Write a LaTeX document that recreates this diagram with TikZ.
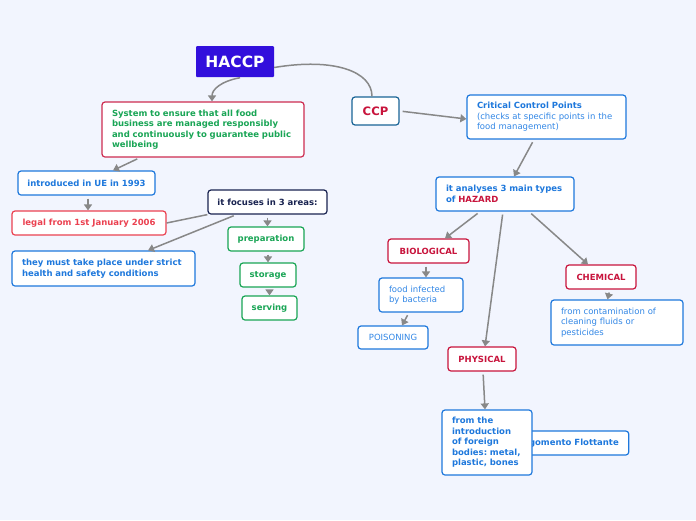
\documentclass[tikz,border=0pt]{standalone}
\usepackage{fontspec}
\setmainfont{DejaVu Sans}
\usetikzlibrary{arrows.meta}
\frenchspacing

\definecolor{bg}{RGB}{242,245,254}
\definecolor{haccpblue}{RGB}{50,15,220}
\definecolor{crimson}{RGB}{200,20,60}
\definecolor{topicblue}{RGB}{30,120,220}
\definecolor{softblue}{RGB}{50,135,230}
\definecolor{leafgreen}{RGB}{25,165,85}
\definecolor{legalred}{RGB}{235,65,80}
\definecolor{navy}{RGB}{25,35,80}
\definecolor{ccpteal}{RGB}{25,100,150}
\definecolor{linkgrey}{RGB}{136,136,136}

\begin{document}
\begin{tikzpicture}[x=1pt, y=-1pt,
    font=\fontsize{8.5}{10.5}\selectfont\bfseries]
  \tikzstyle{box}=[draw, fill=white, rounded corners=3pt, line width=1.2pt,
                   inner sep=0pt, minimum height=24pt]
  \tikzstyle{note}=[box, align=left, inner xsep=10pt]
  \tikzstyle{link}=[draw=linkgrey, line width=1.5pt, shorten <=3pt,
                    -{Triangle[width=8pt,length=6pt]}]
  \tikzstyle{plain}=[draw=linkgrey, line width=1.5pt]
  \useasboundingbox[fill=bg] (0,0) rectangle (696,520);

  % root and main topics
  \node[fill=haccpblue, text=white, rounded corners=1pt, minimum width=78pt,
        minimum height=31pt, font=\fontsize{15.5}{18}\selectfont\bfseries]
        (haccp) at (235,61.5) {HACCP};
  \node[box, draw=ccpteal, text=crimson, minimum width=47pt, minimum height=28pt,
        font=\fontsize{11.6}{14}\selectfont\bfseries] (ccp) at (375.5,111) {CCP};

  % left branch
  \node[note, draw=crimson!90!white, text=leafgreen, text width=182pt,
        minimum height=55pt] (system) at (203,129.5)
        {System to ensure that all food\\business are managed responsibly\\and continuously to guarantee public\\wellbeing};
  \node[box, draw=topicblue, text=topicblue, minimum width=137pt] (intro) at (86.5,183)
        {introduced in UE in 1993};
  \node[box, draw=legalred, text=legalred, minimum width=154pt] (legal) at (89,223)
        {legal from 1st January 2006};
  \node[note, draw=topicblue, text=topicblue, text width=163pt,
        minimum height=35pt] (must) at (103.5,268.5)
        {they must take place under strict\\health and safety conditions};
  \node[box, draw=navy, text=navy, minimum width=119pt] (focus) at (267.5,202)
        {it focuses in 3 areas:};
  \node[box, draw=leafgreen, text=leafgreen, minimum width=76pt] (prep) at (266,239)
        {preparation};
  \node[box, draw=leafgreen, text=leafgreen, minimum width=56pt] (storage) at (268,275)
        {storage};
  \node[box, draw=leafgreen, text=leafgreen, minimum width=55pt] (serving) at (269.5,308)
        {serving};

  % right branch
  \node[note, draw=topicblue, text=topicblue, text width=139pt,
        minimum height=44pt] (critical) at (546.5,117)
        {Critical Control Points\\\mdseries\color{softblue}(checks at specific points in the\\\mdseries\color{softblue}food management)};
  \node[note, draw=topicblue, text=topicblue, text width=118pt,
        minimum height=34pt] (analyses) at (505,194)
        {it analyses 3 main types\\of \textcolor{crimson}{HAZARD}};
  \node[box, draw=crimson, text=crimson, minimum width=81pt] (bio) at (428.5,251)
        {BIOLOGICAL};
  \node[note, draw=topicblue, text=softblue, text width=64pt, minimum height=34pt,
        font=\fontsize{8.5}{10.5}\selectfont] (infected) at (421,295)
        {food infected\\by bacteria};
  \node[box, draw=topicblue, text=softblue, minimum width=70pt, minimum height=23pt,
        font=\fontsize{8.5}{10.5}\selectfont] (poison) at (393,337.5)
        {POISONING};
  \node[box, draw=crimson, text=crimson, minimum width=70pt] (chemical) at (601,277)
        {CHEMICAL};
  \node[note, draw=topicblue, text=softblue, text width=112pt, minimum height=45pt,
        font=\fontsize{8.5}{10.5}\selectfont] (contam) at (617,322.5)
        {from contamination of\\cleaning fluids or\\pesticides};
  \node[box, draw=crimson, text=crimson, minimum width=68pt] (physical) at (482,359)
        {PHYSICAL};
  \node[box, draw=topicblue, text=topicblue, minimum width=117pt, inner xsep=10pt,
        align=right] (floating) at (568.5,443) {\hfill Argomento Flottante};
  \node[note, draw=topicblue, text=topicblue, text width=70pt,
        minimum height=65pt] (foreign) at (487,442.5)
        {from the\\introduction\\of foreign\\bodies: metal,\\plastic, bones};

  % connectors
  \draw[link] ([xshift=8pt]haccp.south) .. controls +(-22,4) and +(0,-12) .. ([xshift=9pt]system.north);
  \draw[plain] ([yshift=-6pt]haccp.east) .. controls +(60,-10) and +(0,-25) .. ([xshift=-3.5pt]ccp.north);
  \draw[link] ([xshift=-63pt]system.south) -- ([xshift=26.5pt]intro.north);
  \draw[link] ([xshift=1.5pt]intro.south) -- ([xshift=-1pt]legal.north);
  \draw[plain] (focus.south west) -- (legal.east);
  \draw[link] ([xshift=-31pt]focus.south) -- ([xshift=44.5pt]must.north);
  \draw[link] (focus.south) -- (focus.south |- prep.north);
  \draw[link] (storage.north |- prep.south) -- (storage.north);
  \draw[link] (serving.north |- storage.south) -- (serving.north);
  \draw[link] (ccp.east) -- ([yshift=-2pt]critical.west);
  \draw[link] ([xshift=-12.5pt]critical.south) -- ([xshift=9pt]analyses.north);
  \draw[link] ([xshift=-25pt]analyses.south) -- ([xshift=16.5pt]bio.north);
  \draw[link] ([xshift=-2pt]analyses.south) -- ([xshift=3pt]physical.north);
  \draw[link] ([xshift=24pt]analyses.south) -- ([xshift=-13pt]chemical.north);
  \draw[link] ([xshift=-2.5pt]bio.south) -- ([xshift=5pt]infected.north);
  \draw[link] ([xshift=-12pt]infected.south) -- ([xshift=9pt]poison.north);
  \draw[link] ([xshift=9pt]chemical.south) -- ([xshift=-9.5pt]contam.north);
  \draw[link] ([xshift=1pt]physical.south) -- ([xshift=-2pt]foreign.north);
\end{tikzpicture}
\end{document}
